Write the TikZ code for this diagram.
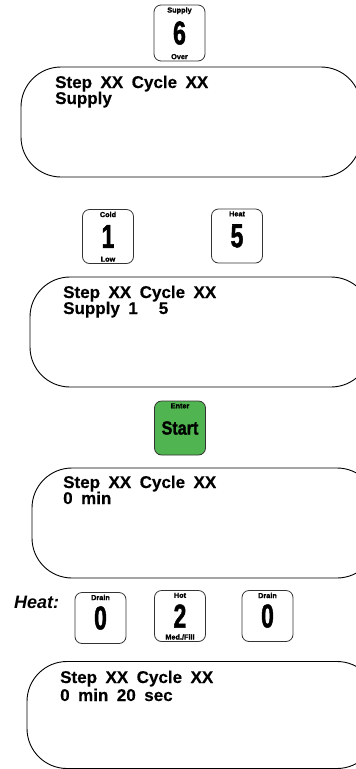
\documentclass[tikz,border=0pt]{standalone}
\usepackage{fontspec}
\setmainfont{Liberation Sans}
\newfontfamily\dispfont[WordSpace=1.8, BoldFeatures={FakeBold=0.4}]{Liberation Sans}
\newfontfamily\keyfont[BoldFeatures={FakeBold=1.6}]{Liberation Sans}
\usetikzlibrary{positioning}
\definecolor{entergreen}{RGB}{80,180,80}
\newcommand{\keydigit}[1]{\scalebox{.7}[1]{#1}}
\tikzset{
  disp/.style={draw, line width=0.9pt, rounded corners=40pt, minimum height=110pt, inner sep=0pt},
  disptext/.style={font=\dispfont\bfseries\fontsize{17}{17}\selectfont, inner sep=0pt, anchor=base west},
  keybox/.style={draw=black!80, line width=0.8pt, rounded corners=7pt, minimum width=51pt, minimum height=54pt, inner sep=0pt, font=\keyfont\bfseries\fontsize{33}{33}\selectfont},
  keylab/.style={font=\keyfont\bfseries\fontsize{7.3}{7.3}\selectfont, inner sep=0pt},
  toplab/.style={label={[keylab, anchor=north, yshift=-2.5pt]north:#1}},
  botlab/.style={label={[keylab, anchor=south, yshift=2pt]south:#1}}
}

\begin{document}
\begin{tikzpicture}[x=1pt, y=-1pt]
\useasboundingbox (0,0) rectangle (356,769);
\clip (0,0) rectangle (356,769);
% supply key
\node[keybox, toplab=Supply, botlab=Over, minimum height=56pt] (k6) at (179.5,33) {\keydigit{6}};
\node[disp, minimum width=340pt] (d1) at (191,122) {};
\node[disptext] (d1a) at (55,88) {Step XX Cycle XX};
\node[disptext] (d1b) at ([yshift=-16pt]d1a.base west) {Supply};
% cold / heat keys
\node[keybox, toplab=Cold, botlab=Low] (k1) at (108,236.5) {\keydigit{1}};
\node[keybox, toplab=Heat] (k5) at (237,236) {\keydigit{5}};
\node[disp, minimum width=341pt] (d2) at (200.5,332) {};
\node[disptext] (d2a) at (63,298) {Step XX Cycle XX};
\node[disptext] (d2b) at ([yshift=-16pt]d2a.base west) {Supply 1\hspace{21pt}5};
% enter
\node[keybox, fill=entergreen, toplab=Enter] (kst) at (180,428) {\fontsize{19}{19}\selectfont\scalebox{.85}[1]{Start}};
\node[disp, minimum width=345pt] (d3) at (204.5,523) {};
\node[disptext] (d3a) at (63,488) {Step XX Cycle XX};
\node[disptext] (d3b) at ([yshift=-16pt]d3a.base west) {0 min};
% heat time
\node[font=\dispfont\bfseries\itshape\fontsize{18}{18}\selectfont, anchor=west, inner sep=0pt] (heat) at (14,602) {Heat:};
\node[keybox, toplab=Drain, minimum height=51pt] (k0a) at (100.5,618) {\keydigit{0}};
\node[keybox, toplab=Hot, botlab=Med./Fill, minimum height=51pt] (k2) at (180,616) {\keydigit{2}};
\node[keybox, toplab=Drain, minimum height=51pt] (k0b) at (267.5,616) {\keydigit{0}};
\node[disp, minimum width=350pt, minimum height=107pt] (d4) at (202,715) {};
\node[disptext] (d4a) at (60,683) {Step XX Cycle XX};
\node[disptext] (d4b) at ([yshift=-18pt]d4a.base west) {0 min 20 sec};
\end{tikzpicture}
\end{document}
